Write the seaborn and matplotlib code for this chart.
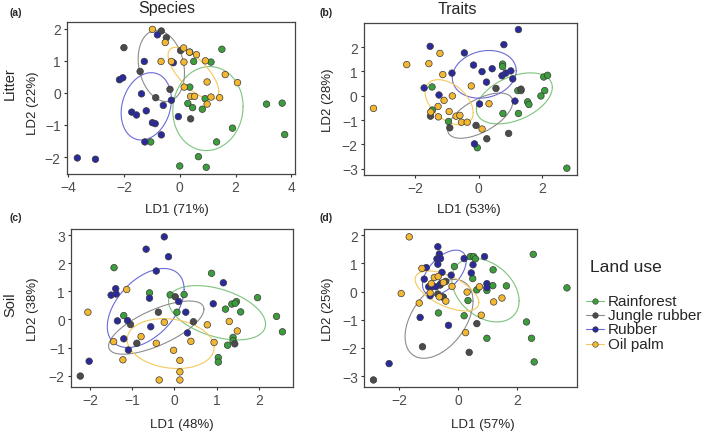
import numpy as np
import pandas as pd
import matplotlib
matplotlib.use("Agg")
import matplotlib.pyplot as plt
from matplotlib.lines import Line2D
import seaborn as sns

# land-use groups and colours (points / ellipses)
groups = ["Rainforest", "Jungle rubber", "Rubber", "Oil palm"]
point_colors = ["#3c9d3c", "#4b4b4b", "#2a2a9c", "#f4b731"]
ellipse_colors = ["#7cc47c", "#8c8c8c", "#6b6bd6", "#f7c75a"]

# (a) Litter - Species
a_rainforest = [(1.51, 1.36), (0.36, 1.27), (0.50, 0.98), (1.12, 0.96), (0.36, 0.18), (0.91, -0.18),
                (0.29, -0.33), (0.46, -0.46), (0.81, -0.51), (3.11, -0.35), (3.67, -0.32), (3.76, -1.30),
                (1.89, -1.10), (1.32, -1.53), (-1.04, -1.53), (0.67, -1.99), (0.0, -2.28), (0.95, -2.32)]
a_jungle = [(-0.66, 1.93), (-0.48, 1.72), (-2.0, 1.41), (0.03, 1.32), (-1.42, 0.67), (-0.35, 0.11),
            (-0.86, -0.15), (0.39, -0.81)]
a_rubber = [(-0.80, 1.81), (-1.27, 0.98), (-0.23, 0.94), (-2.16, 0.41), (-2.04, 0.47), (-1.37, -0.03),
            (-1.72, -0.60), (-1.55, -0.69), (-1.20, -0.56), (-0.30, -0.23), (-0.59, -0.39), (-0.98, -0.93),
            (-0.88, -0.96), (-0.05, -0.74), (-0.66, -1.31), (-1.25, -1.53), (-3.67, -2.03), (-3.02, -2.07)]
a_oilpalm = [(-0.98, 1.98), (-0.52, 1.57), (0.14, 1.40), (0.35, 1.27), (0.60, 1.19), (-0.67, 0.98),
             (-0.30, 0.98), (0.15, 0.96), (0.92, 1.0), (1.63, 0.57), (0.98, 0.34), (2.07, 0.32),
             (0.16, 0.18), (0.39, -0.11), (0.53, -0.11), (1.12, -0.13), (1.43, -0.15), (0.98, -0.35)]
# ellipse: centre x, centre y, half width, half height, correlation
a_ellipses = [(1.01, -0.49, 1.26, 1.31, 0.05), (-0.66, 0.84, 0.83, 1.11, -0.2),
              (-1.20, -0.42, 0.90, 1.05, 0.2), (0.49, 0.61, 0.91, 0.81, -0.7)]

# (b) Litter - Traits
b_rainforest = [(0.76, 1.30), (0.76, 1.20), (-1.47, 0.36), (-1.46, -0.59), (-0.95, -1.06), (-0.04, -2.14),
                (1.24, 0.21), (1.34, 0.21), (2.06, 0.77), (2.18, 0.84), (2.09, 0.21), (1.97, -0.01),
                (1.55, -0.25), (1.59, -0.36), (0.77, -0.73), (1.26, -0.73), (2.79, -2.98)]
b_jungle = [(0.55, 0.30), (1.34, 0.27), (-1.52, -0.84), (-0.91, -1.32), (-0.08, -1.22), (0.26, -1.77),
            (0.95, -1.55)]
b_rubber = [(1.26, 2.72), (0.80, 2.10), (-1.53, 2.03), (-0.45, 1.76), (-0.16, 1.26), (0.11, 0.99),
            (0.43, 1.11), (-0.84, 0.93), (0.74, 0.82), (0.86, 0.93), (1.02, 1.02), (1.08, 0.69),
            (0.25, 0.56), (-1.72, 0.32), (-1.25, 0.03), (0.03, -0.34), (1.15, -0.22), (-0.13, -1.98)]
b_oilpalm = [(-1.22, 1.74), (-2.27, 1.28), (-1.57, 1.32), (-1.13, 0.87), (-0.23, 0.40), (-0.83, -0.01),
             (-1.09, -0.19), (-1.28, -0.44), (-0.93, -0.65), (-1.51, -0.67), (-1.27, -0.87), (-0.71, -0.84),
             (-0.59, -0.81), (-0.54, -1.09), (-0.36, -1.09), (0.33, -0.33), (0.11, -1.37), (-3.32, -0.52)]
b_ellipses = [(1.13, -0.11, 1.2, 1.05, 0.43), (0.05, -0.82, 1.03, 0.93, 0.6),
              (0.18, 0.88, 1.01, 0.98, 0.15), (-0.93, -0.27, 0.76, 0.93, -0.45)]

# (c) Soil - Species
c_rainforest = [(-1.43, 1.85), (0.88, 1.65), (-0.59, 0.95), (-0.10, 0.88), (0.23, 0.89), (1.97, 0.78),
                (1.47, 0.64), (1.36, 0.55), (1.44, 0.58), (1.21, 0.37), (1.57, 0.27), (0.06, 0.26),
                (-1.20, 0.14), (2.42, 0.11), (2.56, -0.44), (1.39, -0.64), (1.39, -0.76), (1.26, -0.92),
                (1.04, -1.36), (1.04, -1.52)]
c_jungle = [(0.02, 0.81), (-0.38, 0.26), (-1.04, -0.18), (0.45, -0.08), (-0.89, -0.85), (1.43, -0.87),
            (-2.23, -2.02)]
c_rubber = [(-0.24, 2.95), (-0.67, 2.51), (-0.14, 2.24), (-0.43, 1.73), (1.16, 1.31), (-1.39, 1.10),
            (-1.50, 0.87), (-1.38, 0.91), (-0.59, 0.76), (0.10, 0.64), (0.92, 0.56), (0.27, 0.26),
            (-1.35, -0.05), (-1.11, -0.04), (-0.56, -0.26), (0.31, -0.48), (-1.20, -0.69), (-1.09, -1.09),
            (-2.02, -1.49)]
c_oilpalm = [(-1.13, 1.07), (-2.05, 0.26), (-0.24, -0.10), (0.78, -0.19), (1.30, -0.07), (1.49, -0.41),
             (-1.44, -0.79), (-0.79, -0.61), (-0.43, -0.85), (0.39, -0.78), (0.94, -0.82), (-0.02, -1.10),
             (-1.22, -1.44), (0.13, -1.46), (0.13, -1.87), (-0.36, -2.16), (0.13, -2.16)]
c_ellipses = [(1.01, 0.24, 1.15, 0.97, -0.42), (-0.43, -0.29, 1.13, 0.95, 0.69),
              (-0.68, 0.41, 0.91, 1.41, 0.47), (-0.09, -0.86, 1.03, 0.89, -0.16)]

# (d) Soil - Traits
d_rainforest = [(0.42, 1.24), (0.53, 1.24), (0.59, 1.16), (-0.12, 0.89), (1.19, 0.77), (0.50, 0.46),
                (2.55, 1.32), (3.69, 0.13), (1.64, 0.20), (1.18, 0.21), (0.98, 0.04), (0.64, 0.06),
                (0.34, -0.32), (-0.49, -0.21), (-0.66, -0.76), (0.21, -0.86), (2.32, -1.08), (0.98, -1.66),
                (2.49, -1.66), (2.58, -2.50)]
d_jungle = [(-0.41, 0.36), (-0.60, 0.23), (-0.68, -0.09), (-0.51, -0.19), (0.64, -1.14), (-1.20, -1.96),
            (0.38, -2.16), (-2.86, -3.14)]
d_rubber = [(-0.68, 1.59), (-0.63, 1.33), (-0.71, 1.16), (-0.59, 1.17), (-1.07, 0.85), (-0.68, 0.97),
            (0.21, 1.17), (0.90, 1.24), (0.51, 0.95), (0.45, 0.66), (-1.14, 0.44), (-0.54, 0.68),
            (-0.23, 0.58), (-0.58, 0.28), (-0.99, 0.17), (-0.88, 0.17), (-0.75, 0.17), (-0.94, -0.15),
            (0.98, 0.28), (0.98, 0.14), (-1.28, -0.92), (-0.32, -1.20), (-2.33, -2.56)]
d_oilpalm = [(-1.65, 1.94), (-1.22, 0.82), (-0.80, 0.50), (-0.67, 0.53), (-0.90, 0.28), (-0.49, 0.32),
             (-1.92, -0.07), (-0.94, -0.05), (-0.63, -0.19), (-0.41, -0.34), (-1.31, -0.41), (-0.20, 0.18),
             (0.31, -0.02), (0.73, 0.17), (1.21, -0.37), (1.49, -0.23), (0.79, -0.84), (0.26, -1.46)]
d_ellipses = [(0.93, 0.05, 1.14, 1.13, -0.34), (-0.64, -0.97, 1.15, 1.40, 0.45),
              (-0.46, 0.67, 0.74, 0.80, 0.53), (-0.37, 0.02, 1.08, 0.71, -0.58)]

x_labels = ["LD1 (71%)", "LD1 (53%)", "LD1 (48%)", "LD1 (57%)"]
y_labels = ["LD2 (22%)", "LD2 (28%)", "LD2 (38%)", "LD2 (25%)"]
x_ticks = [[-4, -2, 0, 2, 4], [-2, 0, 2], [-2, -1, 0, 1, 2], [-2, 0, 2]]
y_ticks = [[-2, -1, 0, 1, 2], [-3, -2, -1, 0, 1, 2], [-2, -1, 0, 1, 2, 3], [-3, -2, -1, 0, 1, 2]]

sns.set_style("ticks")
plt.rcParams["font.family"] = ["Liberation Sans", "DejaVu Sans"]

fig = plt.figure(figsize=(7.09, 4.35), dpi=100)

W, H = 709, 435


def px_axes(left, top, right, bottom):
    return fig.add_axes([left / W, 1 - bottom / H, (right - left) / W, (bottom - top) / H])


panels = [
    dict(ax=px_axes(67, 23, 295, 175), pts=[a_rainforest, a_jungle, a_rubber, a_oilpalm], ell=a_ellipses,
         xlim=(-4.04, 4.13), ylim=(-2.53, 2.21), xl=(0.48, -0.23), yl=(-0.149, 0.47)),
    dict(ax=px_axes(364, 24, 577, 176), pts=[b_rainforest, b_jungle, b_rubber, b_oilpalm], ell=b_ellipses,
         xlim=(-3.62, 3.11), ylim=(-3.26, 2.99), xl=(0.49, -0.224), yl=(-0.169, 0.5)),
    dict(ax=px_axes(71, 230, 293, 388), pts=[c_rainforest, c_jungle, c_rubber, c_oilpalm], ell=c_ellipses,
         xlim=(-2.45, 2.81), ylim=(-2.41, 3.23), xl=(0.5, -0.234), yl=(-0.171, 0.5)),
    dict(ax=px_axes(364, 230, 577, 388), pts=[d_rainforest, d_jungle, d_rubber, d_oilpalm], ell=d_ellipses,
         xlim=(-3.18, 4.03), ylim=(-3.39, 2.22), xl=(0.56, -0.234), yl=(-0.169, 0.5)),
]

t = np.linspace(0, 2 * np.pi, 200)
for i, p in enumerate(panels):
    ax = p["ax"]
    rows = []
    for g, pts in zip(groups, p["pts"]):
        for x, y in pts:
            rows.append({"LD1": x, "LD2": y, "Land use": g})
    df = pd.DataFrame(rows)

    # ellipses
    for (cx, cy, rx, ry, rho), col in zip(p["ell"], ellipse_colors):
        phi = np.arcsin(rho)
        ax.plot(cx + rx * np.cos(t), cy + ry * np.sin(t + phi), color=col, lw=0.8, zorder=2)

    sns.scatterplot(data=df, x="LD1", y="LD2", hue="Land use", hue_order=groups, palette=point_colors,
                    s=22, edgecolor="#3a3a3a", linewidth=0.5, legend=False, ax=ax, zorder=3)

    ax.set_xlim(p["xlim"])
    ax.set_ylim(p["ylim"])
    ax.set_xticks(x_ticks[i])
    ax.set_yticks(y_ticks[i])
    ax.tick_params(labelsize=10, labelcolor="#4d4d4d", length=2.5, width=0.8, color="#333333", pad=2)
    for sp in ax.spines.values():
        sp.set_color("#444444")
        sp.set_linewidth(0.9)
    ax.set_xlabel(x_labels[i], fontsize=9.5, va="center")
    ax.set_ylabel(y_labels[i], fontsize=9.5, va="center")
    ax.xaxis.set_label_coords(*p["xl"])
    ax.yaxis.set_label_coords(*p["yl"])

# panel letters, column titles and row labels
for lab, (x, y) in zip(["(a)", "(b)", "(c)", "(d)"], [(16, 13), (326, 13), (16, 218), (326, 218)]):
    fig.text(x / W, 1 - y / H, lab, fontsize=7.5, fontweight="bold", ha="center", va="center")
fig.text(167 / W, 1 - 9 / H, "Species", fontsize=11.5, ha="center", va="center")
fig.text(457 / W, 1 - 9 / H, "Traits", fontsize=11.5, ha="center", va="center")
fig.text(10 / W, 1 - 84 / H, "Litter", fontsize=10.5, rotation=90, ha="center", va="center")
fig.text(10 / W, 1 - 305 / H, "Soil", fontsize=10.5, rotation=90, ha="center", va="center")

# legend
fig.text(590 / W, 1 - 267 / H, "Land use", fontsize=12.5, ha="left", va="center")
for k, (g, pc, ec) in enumerate(zip(groups, point_colors, ellipse_colors)):
    yy = 1 - (302 + 14.2 * k) / H
    fig.add_artist(Line2D([586 / W, 604 / W], [yy, yy], color=ec, lw=0.8, transform=fig.transFigure))
    fig.add_artist(Line2D([595 / W], [yy], marker="o", markersize=4, markerfacecolor=pc,
                          markeredgecolor="#3a3a3a", markeredgewidth=0.4, transform=fig.transFigure))
    fig.text(608 / W, yy, g, fontsize=11, ha="left", va="center")

fig.savefig("out.png", dpi=100)
